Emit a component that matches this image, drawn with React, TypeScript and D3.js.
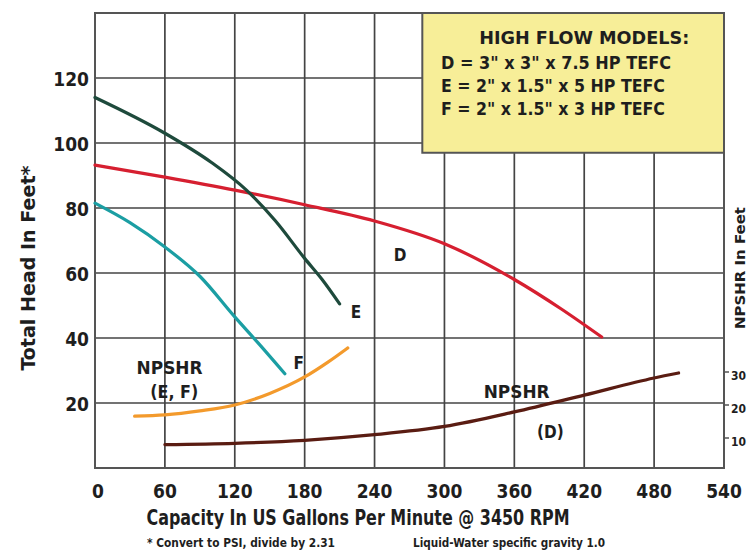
import { useEffect, useRef } from 'react';
import * as d3 from 'd3';

const xTicks = [0, 60, 120, 180, 240, 300, 360, 420, 480, 540];
const yTicks = [20, 40, 60, 80, 100, 120];
const rightTicks = [10, 20, 30];

// head curves (gpm, feet)
const curveD = [[0, 93.2], [60, 89.5], [120, 85.5], [180, 81], [240, 76], [300, 69], [360, 58], [400, 49], [435, 40.3]];
const curveE = [[0, 114], [60, 103], [100, 94], [130, 85.5], [155, 76], [180, 64.5], [195, 58], [210, 50.5]];
const curveF = [[0, 81.5], [30, 75.5], [60, 68], [90, 59], [120, 46.5], [140, 38.5], [163, 29]];
// NPSHR curves (gpm, feet on right scale)
const npshrEF = [[34, 16.6], [60, 17], [90, 18.2], [120, 20], [150, 23.5], [180, 28.5], [200, 33], [217, 37.3]];
const npshrD = [[60, 8], [120, 8.4], [180, 9.3], [240, 11], [300, 13.5], [360, 17.9], [420, 23], [480, 28.2], [501, 29.7]];

const legendTitle = 'HIGH FLOW MODELS:';
const legendLines = ['D = 3" x 3" x  7.5 HP TEFC', 'E = 2" x 1.5" x 5 HP TEFC', 'F = 2" x 1.5" x 3 HP TEFC'];
const legendWidths = [230, 224, 224];

const FONT = '"DejaVu Sans Condensed", "Liberation Sans Narrow", sans-serif';
const INK = '#1e1e1e';

export default function App() {
  const svgRef = useRef<SVGSVGElement>(null);
  const width = 748;
  const height = 558;

  useEffect(() => {
    if (!svgRef.current) return;
    const svg = d3.select(svgRef.current);
    svg.selectAll('*').remove();

    const x = d3.scaleLinear().domain([0, 540]).range([95, 724]);
    const y = d3.scaleLinear().domain([0, 140]).range([468, 13]);
    const yR = d3.scaleLinear().domain([0, 30]).range([471, 372]);

    const txt = (size: number) => `bold ${size}px ${FONT}`;

    svg.append('rect').attr('width', width).attr('height', height).attr('fill', '#fff');

    // grid
    const grid = svg.append('g').attr('stroke', '#444').attr('stroke-width', 1.7);
    xTicks.slice(1, -1).forEach((t) => {
      grid.append('line').attr('x1', x(t)).attr('x2', x(t)).attr('y1', y(140)).attr('y2', y(0));
    });
    yTicks.forEach((t) => {
      grid.append('line').attr('x1', x(0)).attr('x2', x(540)).attr('y1', y(t)).attr('y2', y(t));
    });
    svg.append('rect')
      .attr('x', x(0)).attr('y', y(140))
      .attr('width', x(540) - x(0)).attr('height', y(0) - y(140))
      .attr('fill', 'none').attr('stroke', '#555').attr('stroke-width', 2);

    // legend box
    svg.append('rect')
      .attr('x', x(281)).attr('y', y(140))
      .attr('width', x(540) - x(281)).attr('height', y(97) - y(140))
      .attr('fill', '#f7ee98').attr('stroke', '#555').attr('stroke-width', 2);
    svg.append('text')
      .attr('x', x(420)).attr('y', y(140) + 31)
      .attr('text-anchor', 'middle')
      .attr('textLength', 210).attr('lengthAdjust', 'spacingAndGlyphs')
      .style('font', txt(18)).attr('fill', INK)
      .text(legendTitle);
    legendLines.forEach((l, i) => {
      svg.append('text')
        .attr('x', x(297)).attr('y', y(140) + 56 + i * 23)
        .attr('textLength', legendWidths[i]).attr('lengthAdjust', 'spacingAndGlyphs')
        .style('font', txt(17)).attr('fill', INK)
        .text(l);
    });

    const line = d3.line<number[]>()
      .x((d) => x(d[0]))
      .y((d) => y(d[1]))
      .curve(d3.curveMonotoneX);
    const lineR = d3.line<number[]>()
      .x((d) => x(d[0]))
      .y((d) => yR(d[1]))
      .curve(d3.curveMonotoneX);

    const curves: [number[][], string, boolean][] = [
      [npshrEF, '#f39a2c', true],
      [npshrD, '#5a1c12', true],
      [curveD, '#d61f30', false],
      [curveF, '#1b9ea3', false],
      [curveE, '#1e4a3c', false],
    ];
    curves.forEach(([data, color, right]) => {
      svg.append('path')
        .attr('d', (right ? lineR : line)(data))
        .attr('fill', 'none')
        .attr('stroke', color)
        .attr('stroke-width', 3.2)
        .attr('stroke-linecap', 'round');
    });

    // curve labels
    const labels: [string, number, number, number][] = [
      ['D', 262, 65.5, 0],
      ['E', 224, 48, 0],
      ['F', 175, 32.2, 0],
      ['NPSHR', 64, 30.8, 66],
      ['(E, F)', 68, 23.4, 48],
      ['NPSHR', 362, 23.4, 66],
      ['(D)', 391, 11, 0],
    ];
    labels.forEach(([t, gx, gy, w]) => {
      const el = svg.append('text')
        .attr('x', x(gx)).attr('y', y(gy))
        .attr('text-anchor', 'middle').attr('dominant-baseline', 'central')
        .style('font', txt(17)).attr('fill', INK)
        .text(t);
      if (w) el.attr('textLength', w).attr('lengthAdjust', 'spacingAndGlyphs');
    });

    // left axis labels
    yTicks.forEach((t) => {
      svg.append('text')
        .attr('x', 89).attr('y', y(t) + 1)
        .attr('text-anchor', 'end').attr('dominant-baseline', 'central')
        .style('font', txt(19)).attr('fill', INK)
        .text(t);
    });
    // bottom axis labels
    xTicks.forEach((t) => {
      svg.append('text')
        .attr('x', t === 0 ? x(t) + 3 : x(t)).attr('y', 491)
        .attr('text-anchor', 'middle').attr('dominant-baseline', 'central')
        .style('font', txt(19)).attr('fill', INK)
        .text(t);
    });
    // right axis
    rightTicks.forEach((t) => {
      svg.append('line')
        .attr('x1', x(540)).attr('x2', x(540) + 5)
        .attr('y1', yR(t)).attr('y2', yR(t))
        .attr('stroke', '#555').attr('stroke-width', 1.5);
      svg.append('text')
        .attr('x', 731).attr('y', yR(t) + 3)
        .attr('dominant-baseline', 'central')
        .attr('textLength', 15).attr('lengthAdjust', 'spacingAndGlyphs')
        .style('font', txt(13)).attr('fill', INK)
        .text(t);
    });

    svg.append('text')
      .attr('transform', 'translate(28,268) rotate(-90)')
      .attr('text-anchor', 'middle').attr('dominant-baseline', 'central')
      .attr('textLength', 205).attr('lengthAdjust', 'spacingAndGlyphs')
      .style('font', txt(19)).attr('fill', INK)
      .text('Total Head In Feet*');
    svg.append('text')
      .attr('transform', 'translate(740,268) rotate(-90)')
      .attr('text-anchor', 'middle').attr('dominant-baseline', 'central')
      .attr('textLength', 122).attr('lengthAdjust', 'spacingAndGlyphs')
      .style('font', txt(14)).attr('fill', INK)
      .text('NPSHR In Feet');

    svg.append('text')
      .attr('x', 358).attr('y', 518)
      .attr('text-anchor', 'middle').attr('dominant-baseline', 'central')
      .attr('textLength', 423).attr('lengthAdjust', 'spacingAndGlyphs')
      .style('font', txt(21)).attr('fill', INK)
      .text('Capacity In US Gallons Per Minute @ 3450 RPM');
    svg.append('text')
      .attr('x', 241).attr('y', 542)
      .attr('text-anchor', 'middle').attr('dominant-baseline', 'central')
      .attr('textLength', 188).attr('lengthAdjust', 'spacingAndGlyphs')
      .style('font', txt(13)).attr('fill', INK)
      .text('* Convert to PSI, divide by 2.31');
    svg.append('text')
      .attr('x', 509).attr('y', 542)
      .attr('text-anchor', 'middle').attr('dominant-baseline', 'central')
      .attr('textLength', 192).attr('lengthAdjust', 'spacingAndGlyphs')
      .style('font', txt(13)).attr('fill', INK)
      .text('Liquid-Water specific gravity 1.0');
  }, []);

  return (
    <svg
      ref={svgRef}
      width={width}
      height={height}
      style={{ position: 'absolute', left: 0, top: 0, display: 'block' }}
    />
  );
}
